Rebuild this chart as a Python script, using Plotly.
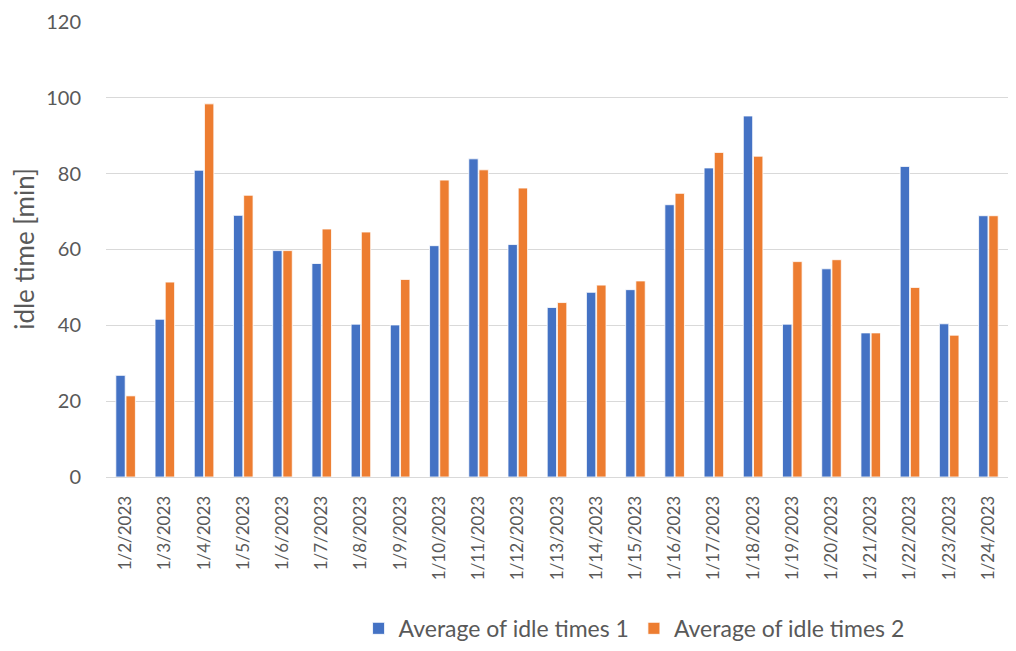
import plotly.graph_objects as go

dates = ["1/2/2023", "1/3/2023", "1/4/2023", "1/5/2023", "1/6/2023", "1/7/2023",
         "1/8/2023", "1/9/2023", "1/10/2023", "1/11/2023", "1/12/2023", "1/13/2023",
         "1/14/2023", "1/15/2023", "1/16/2023", "1/17/2023", "1/18/2023", "1/19/2023",
         "1/20/2023", "1/21/2023", "1/22/2023", "1/23/2023", "1/24/2023"]

idle1 = [26.8, 41.6, 80.9, 69.0, 59.7, 56.3, 40.3, 40.1, 61.0, 83.9, 61.3, 44.7,
         48.7, 49.4, 71.8, 81.5, 95.2, 40.3, 54.9, 38.0, 81.9, 40.4, 68.9]
idle2 = [21.4, 51.4, 98.4, 74.3, 59.7, 65.4, 64.6, 52.1, 78.3, 81.0, 76.2, 46.0,
         50.6, 51.7, 74.8, 85.6, 84.6, 56.8, 57.3, 38.0, 50.0, 37.4, 68.9]

series_names = ["Average of idle times 1", "Average of idle times 2"]
colors = ["#4472C4", "#ED7D31"]
y_ticks = [0, 20, 40, 60, 80, 100, 120]

FONT = "Lato, Carlito, Calibri, sans-serif"
GRAY = "#595959"

fig = go.Figure()
for name, vals, c in zip(series_names, [idle1, idle2], colors):
    fig.add_trace(go.Bar(
        x=dates, y=vals, name=name,
        marker=dict(color=c, line=dict(color="white", width=0.8)),
    ))

fig.update_layout(
    width=1008, height=660,
    barmode="group", bargap=0.48, bargroupgap=0.08,
    plot_bgcolor="white", paper_bgcolor="white",
    margin=dict(l=98, r=8, t=13, b=191),
    font=dict(family=FONT, color=GRAY, size=18),
    legend=dict(orientation="h", x=0.28, xanchor="left", y=-0.332, yanchor="middle",
                font=dict(size=23, color=GRAY), itemwidth=30, tracegroupgap=0),
    showlegend=True,
)
fig.update_xaxes(
    type="category", tickangle=-90, tickfont=dict(size=17, color=GRAY),
    showgrid=False, showline=True, linecolor="#d9d9d9", linewidth=1,
    ticks="", ticklabelstandoff=11, automargin=False,
)
fig.update_yaxes(
    range=[0, 120.25], tickvals=y_ticks, tickfont=dict(size=20, color=GRAY),
    showgrid=True, gridcolor="#d9d9d9", gridwidth=1, zeroline=False,
    title=dict(text="idle time [min]", font=dict(size=26, color=GRAY), standoff=7),
    ticks="", showline=False, ticklabelstandoff=24, automargin=False,
)

fig.write_html("out.html")
